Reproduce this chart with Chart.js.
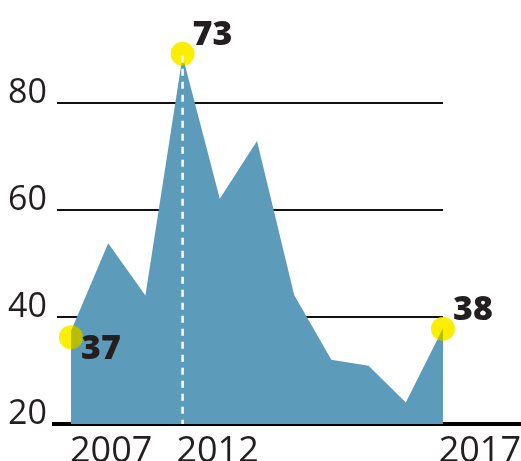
<!DOCTYPE html>
<html>
<head>
<meta charset="utf-8">
<script src="https://cdn.jsdelivr.net/npm/chart.js@4"></script>
<style>
  body { margin: 0; background: #fff; }
  #wrap { width: 521px; height: 461px; position: relative; }
</style>
</head>
<body>
<div id="wrap"><canvas id="chart"></canvas></div>
<script>
// series, one value per point (index 0..10)
const values = [37.4, 53.8, 44.0, 88.8, 62.1, 72.9, 44.1, 32.0, 30.9, 24.0, 37.9];

// highlighted points and their callout labels
const markerIdx = [0, 3, 10];
const markerVals = [36.2, 89.2, 37.8];
const markerLabels = ['37', '73', '38'];
const markerSide = ['below', 'above', 'above'];

// axis ticks
const yTicks = [20, 40, 60, 80];
const xTickLabels = ['2007', '2012', '2017'];
const xTickPos = [1.08, 3.94, 10.99];

const INK = '#231f20';

const gridPlugin = {
  id: 'gridLines',
  beforeDatasetsDraw(chart) {
    const { ctx, chartArea, scales: { x, y } } = chart;
    const right = x.getPixelForValue(values.length - 1);
    ctx.save();
    ctx.strokeStyle = '#111';
    ctx.lineWidth = 2;
    yTicks.slice(1).forEach(v => {
      const py = Math.round(y.getPixelForValue(v));
      ctx.beginPath();
      ctx.moveTo(chartArea.left + 3, py);
      ctx.lineTo(right, py);
      ctx.stroke();
    });
    ctx.restore();
  }
};

const markerPlugin = {
  id: 'markers',
  afterDatasetsDraw(chart) {
    const { ctx, scales: { x, y } } = chart;
    const pts = chart.getDatasetMeta(1).data;
    ctx.save();
    pts.forEach(p => {
      // olive where the circle covers the area, yellow elsewhere
      ctx.globalCompositeOperation = 'source-atop';
      ctx.fillStyle = '#b6bd08';
      ctx.beginPath(); ctx.arc(p.x, p.y, 12, 0, Math.PI * 2); ctx.fill();
      ctx.globalCompositeOperation = 'destination-over';
      ctx.fillStyle = '#fbee00';
      ctx.beginPath(); ctx.arc(p.x, p.y, 12, 0, Math.PI * 2); ctx.fill();
    });
    ctx.globalCompositeOperation = 'source-over';

    // dashed drop line from the peak
    const peak = pts[1];
    ctx.strokeStyle = '#fff';
    ctx.lineWidth = 2.5;
    ctx.setLineDash([7, 6]);
    ctx.beginPath();
    ctx.moveTo(peak.x, peak.y + 2);
    ctx.lineTo(peak.x, y.getPixelForValue(20));
    ctx.stroke();
    ctx.setLineDash([]);

    ctx.fillStyle = INK;
    ctx.font = '800 34px "Open Sans"';
    ctx.textAlign = 'left';
    ctx.textBaseline = 'alphabetic';
    pts.forEach((p, i) => {
      const dy = markerSide[i] === 'below' ? 22 : -9;
      ctx.fillText(markerLabels[i], p.x + 10, p.y + dy);
    });
    ctx.restore();
  }
};

new Chart(document.getElementById('chart'), {
  type: 'line',
  data: {
    datasets: [
      {
        data: values.map((v, i) => ({ x: i, y: v })),
        fill: 'start',
        backgroundColor: '#5d9bbb',
        borderColor: 'rgba(0,0,0,0)',
        borderWidth: 0,
        pointRadius: 0,
        tension: 0
      },
      {
        data: markerIdx.map((idx, i) => ({ x: idx, y: markerVals[i] })),
        showLine: false,
        pointRadius: 0,
        borderColor: 'rgba(0,0,0,0)',
        backgroundColor: 'rgba(0,0,0,0)'
      }
    ]
  },
  options: {
    responsive: true,
    maintainAspectRatio: false,
    animation: false,
    layout: { padding: 0 },
    plugins: { legend: { display: false }, tooltip: { enabled: false } },
    scales: {
      x: {
        type: 'linear',
        min: -0.457,
        max: 12.097,
        afterBuildTicks: s => { s.ticks = xTickPos.map(v => ({ value: v })); },
        afterFit: s => { s.height = 37; s.paddingLeft = 0; s.paddingRight = 0; },
        grid: { drawOnChartArea: false, drawTicks: false },
        border: { display: true, color: '#000', width: 4 },
        ticks: {
          autoSkip: false,
          maxRotation: 0,
          padding: 6,
          color: INK,
          font: { family: 'Open Sans', size: 36, weight: 400 },
          callback: (v, i) => xTickLabels[i]
        }
      },
      y: {
        min: 20,
        max: 99.25,
        afterBuildTicks: s => { s.ticks = yTicks.map(v => ({ value: v })); },
        afterFit: s => { s.width = 54; s.paddingTop = 0; s.paddingBottom = 0; },
        grid: { display: false, drawTicks: false },
        border: { display: false },
        ticks: {
          padding: 7,
          labelOffset: -10,
          color: INK,
          font: { family: 'Open Sans', size: 34, weight: 400 }
        }
      }
    }
  },
  plugins: [gridPlugin, markerPlugin]
});
</script>
</body>
</html>
